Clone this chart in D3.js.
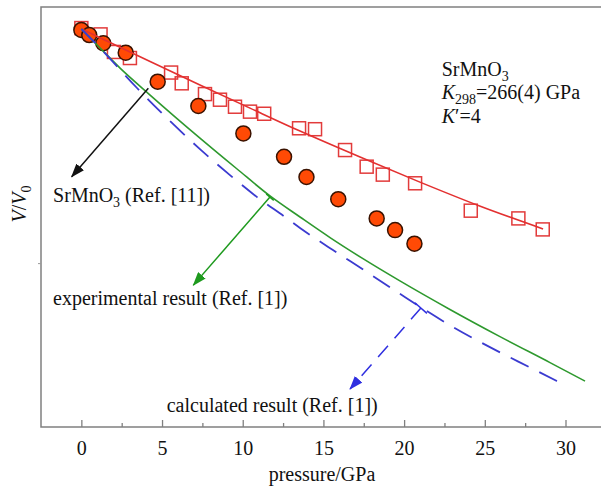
<!DOCTYPE html>
<html>
<head>
<meta charset="utf-8">
<script src="https://cdn.jsdelivr.net/npm/d3@7"></script>
<style>
  body { margin: 0; background: #fff; }
  text { font-family: "Liberation Serif", "Times New Roman", serif; }
</style>
</head>
<body>
<div class="chart"></div>
<script>
// SrMnO3 (Ref. [11]) - filled circles
var circlePressure = [0, 0.49, 1.36, 2.75, 4.73, 7.25, 10.04, 12.56, 13.95, 15.92, 18.30, 19.44, 20.64];
var circleVolume = [0.9996, 0.9974, 0.9939, 0.9899, 0.9775, 0.9671, 0.9554, 0.9454, 0.9368, 0.9273, 0.9191, 0.9141, 0.9083];

// this work - open squares
var squarePressure = [0, 1.19, 2.02, 3.01, 5.56, 6.22, 7.66, 8.59, 9.52, 10.45, 11.33, 13.49, 14.48, 16.34, 17.68, 18.68, 20.68, 24.13, 27.08, 28.59];
var squareVolume = [1.0004, 0.9977, 0.9902, 0.9876, 0.9814, 0.9768, 0.9722, 0.9698, 0.9668, 0.9647, 0.9638, 0.9576, 0.9572, 0.9483, 0.9412, 0.9378, 0.9341, 0.9224, 0.9191, 0.9144];

// fitted EOS, K298=266(4) GPa (red line)
var fitPressure = [0, 4.26, 7.35, 10.45, 13.55, 17.27, 20.98, 24.68, 28.61];
var fitVolume = [1.0, 0.9861, 0.9761, 0.9662, 0.9564, 0.9453, 0.9346, 0.9244, 0.9146];

// experimental result (Ref. [1]) - green line
var expPressure = [0, 1.16, 2.40, 4.26, 7.35, 9.65, 11.69, 13.55, 15.41, 17.45, 19.74, 22.84, 25.94, 29.04, 31.21];
var expVolume = [1.0, 0.9919, 0.9833, 0.9718, 0.9534, 0.9402, 0.9287, 0.9197, 0.9109, 0.9019, 0.8924, 0.8802, 0.8686, 0.8575, 0.8496];

// calculated result (Ref. [1]) - blue dashed line
var calcPressure = [0, 1.16, 1.96, 3.45, 5.49, 7.35, 9.21, 10.89, 12.62, 13.55, 15.59, 16.65, 19.56, 23.03, 25.76, 27.99, 29.47];
var calcVolume = [1.0, 0.9919, 0.9859, 0.9748, 0.9607, 0.9487, 0.9376, 0.9282, 0.9197, 0.9150, 0.9056, 0.9009, 0.8877, 0.8727, 0.8625, 0.8548, 0.8496];

var xMajorTicks = [0, 5, 10, 15, 20, 25, 30];
var xMinorTicks = [2.5, 7.5, 12.5, 17.5, 22.5, 27.5];
var yTicks = [0.90];

function zip(px, vs) {
  return px.map(function(p, i) { return {p: p, v: vs[i]}; });
}

var svgWidth = 601;
var svgHeight = 491;

var svg = d3.select(".chart")
  .append("svg")
  .attr("width", svgWidth)
  .attr("height", svgHeight);

var x = d3.scaleLinear().domain([-2.5, 32.2]).range([41, 601]);
var y = d3.scaleLinear().domain([0.83, 1.0094]).range([427, 7]);

// arrow heads
var defs = svg.append("defs");
function arrowMarker(id, color) {
  defs.append("marker")
    .attr("id", id)
    .attr("viewBox", "0 0 14 10")
    .attr("refX", 13)
    .attr("refY", 5)
    .attr("markerWidth", 14)
    .attr("markerHeight", 10)
    .attr("markerUnits", "userSpaceOnUse")
    .attr("orient", "auto")
    .append("path")
    .attr("d", "M0,0L14,5L0,10Z")
    .attr("fill", color);
}
arrowMarker("arrBlack", "#111");
arrowMarker("arrGreen", "#1e9a1e");
arrowMarker("arrBlue", "#2f2fe0");

// frame (no right border)
svg.append("path")
  .attr("d", "M601,7H41V427H601")
  .attr("fill", "none")
  .attr("stroke", "#808080")
  .attr("stroke-width", 1.5);

// x axis, ticks pointing inward
var xAxis = d3.axisBottom(x).tickValues(xMajorTicks).tickSizeInner(-7).tickSizeOuter(0).tickPadding(14);
var gx = svg.append("g").attr("transform", "translate(0,427)").call(xAxis);
gx.select(".domain").remove();
gx.selectAll(".tick line").attr("stroke", "#808080").attr("stroke-width", 1.3);
gx.selectAll(".tick text").attr("font-size", "20px").attr("fill", "#111")
  .style("font-family", '"Liberation Serif", serif');

var xMinor = d3.axisBottom(x).tickValues(xMinorTicks).tickSizeInner(-4).tickSizeOuter(0).tickFormat("");
var gm = svg.append("g").attr("transform", "translate(0,427)").call(xMinor);
gm.select(".domain").remove();
gm.selectAll(".tick line").attr("stroke", "#808080").attr("stroke-width", 1.3);

var yAxis = d3.axisLeft(y).tickValues(yTicks).tickSizeInner(3).tickSizeOuter(0).tickFormat("");
var gy = svg.append("g").attr("transform", "translate(41,0)").call(yAxis);
gy.select(".domain").remove();
gy.selectAll(".tick line").attr("stroke", "#999");

// axis titles
svg.append("text")
  .attr("x", 322).attr("y", 481)
  .attr("text-anchor", "middle")
  .attr("font-size", "20px")
  .attr("fill", "#111")
  .text("pressure/GPa");

var ylab = svg.append("text")
  .attr("transform", "translate(26,204) rotate(-90)")
  .attr("text-anchor", "middle")
  .attr("font-size", "20px")
  .attr("fill", "#111");
ylab.append("tspan").attr("font-style", "italic").text("V");
ylab.append("tspan").text("/");
ylab.append("tspan").attr("font-style", "italic").text("V");
ylab.append("tspan").attr("font-size", "14px").attr("dy", 5).text("0");

var line = d3.line()
  .x(function(d) { return x(d.p); })
  .y(function(d) { return y(d.v); })
  .curve(d3.curveMonotoneX);

// open squares
var sq = 13;
svg.append("g").selectAll("rect")
  .data(zip(squarePressure, squareVolume))
  .enter()
  .append("rect")
  .attr("x", function(d) { return x(d.p) - sq / 2; })
  .attr("y", function(d) { return y(d.v) - sq / 2; })
  .attr("width", sq)
  .attr("height", sq)
  .attr("fill", "none")
  .attr("stroke", "#e23b3b")
  .attr("stroke-width", 1.5);

// filled circles
svg.append("g").selectAll("circle")
  .data(zip(circlePressure, circleVolume))
  .enter()
  .append("circle")
  .attr("cx", function(d) { return x(d.p); })
  .attr("cy", function(d) { return y(d.v); })
  .attr("r", 7.5)
  .attr("fill", "#ff4a05")
  .attr("stroke", "#3a1200")
  .attr("stroke-width", 1.5);

// curves
svg.append("path")
  .datum(zip(fitPressure, fitVolume))
  .attr("d", line)
  .attr("fill", "none")
  .attr("stroke", "#e33030")
  .attr("stroke-width", 1.6);

svg.append("path")
  .datum(zip(expPressure, expVolume))
  .attr("d", line)
  .attr("fill", "none")
  .attr("stroke", "#2e992e")
  .attr("stroke-width", 1.6);

svg.append("path")
  .datum(zip(calcPressure, calcVolume))
  .attr("d", line)
  .attr("fill", "none")
  .attr("stroke", "#3b3bd0")
  .attr("stroke-width", 1.8)
  .attr("stroke-dasharray", "20,12");

// annotation arrows: [from pressure, from V/V0, to pressure, to V/V0]
var arrowBlack = [4.15, 0.9747, -0.60, 0.9369];
var arrowGreen = [11.69, 0.9282, 6.94, 0.8906];
var arrowBlue = [21.04, 0.8808, 16.65, 0.8462];

function drawArrow(a, color, marker, dash, bar) {
  var x1 = x(a[0]), y1 = y(a[1]), x2 = x(a[2]), y2 = y(a[3]);
  svg.append("line")
    .attr("x1", x1).attr("y1", y1).attr("x2", x2).attr("y2", y2)
    .attr("stroke", color)
    .attr("stroke-width", 1.5)
    .attr("stroke-dasharray", dash)
    .attr("marker-end", "url(#" + marker + ")");
  if (bar) {
    var dx = x2 - x1, dy = y2 - y1, len = Math.sqrt(dx * dx + dy * dy);
    var nx = -dy / len, ny = dx / len;
    svg.append("line")
      .attr("x1", x1 - nx * bar).attr("y1", y1 - ny * bar)
      .attr("x2", x1 + nx * bar).attr("y2", y1 + ny * bar)
      .attr("stroke", color)
      .attr("stroke-width", 1.5);
  }
}
drawArrow(arrowBlack, "#111", "arrBlack", null, 0);
drawArrow(arrowGreen, "#1e9a1e", "arrGreen", null, 5);
drawArrow(arrowBlue, "#2f2fe0", "arrBlue", "15,10", 8);

// text labels, parts: [text, style] where style is "i" italic, "s" subscript
function label(p, v, parts) {
  var t = svg.append("text")
    .attr("x", x(p)).attr("y", y(v))
    .attr("font-size", "20px")
    .attr("fill", "#111");
  var shifted = false;
  parts.forEach(function(part) {
    var s = t.append("tspan").text(part[0]);
    if (part[1] && part[1].indexOf("i") >= 0) s.attr("font-style", "italic");
    if (part[1] && part[1].indexOf("s") >= 0) {
      s.attr("font-size", "14px");
      if (!shifted) { s.attr("dy", 5); shifted = true; }
    } else if (shifted) {
      s.attr("dy", -5); shifted = false;
    }
  });
}

label(-1.75, 0.9262, [["SrMnO"], ["3", "s"], [" (Ref. [11])"]]);
label(-1.75, 0.8821, [["experimental result (Ref. [1])"]]);
label(5.29, 0.8365, [["calculated result (Ref. [1])"]]);
label(22.33, 0.9799, [["SrMnO"], ["3", "s"]]);
label(22.33, 0.9701, [["K", "i"], ["298", "s"], ["=266(4) GPa"]]);
label(22.33, 0.9600, [["K", "i"], ["\u2032=4"]]);
</script>
</body>
</html>
